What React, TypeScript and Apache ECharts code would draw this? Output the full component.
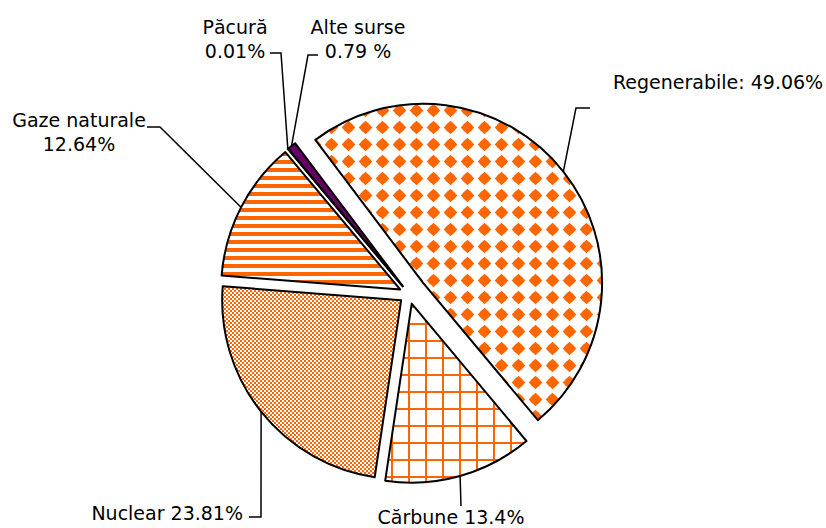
import React, { useEffect, useRef } from 'react';
import * as echarts from 'echarts';

// ---- data ----
const categories = ['Regenerabile', 'Cărbune', 'Nuclear', 'Gaze naturale', 'Păcură', 'Alte surse'];
const shares = [49.06, 13.4, 23.81, 12.64, 0.01, 0.79];
const labelTemplates = ['{b}: {c}%', '{b} {c}%', '{b} {c}%', '{b}\n{c}%', '{b}\n{c}%', '{b}\n{c} %'];

// ---- layout ----
const PIE_CENTER = [409, 294];
const PIE_RADIUS = 179;
const START_ANGLE = 127;
const explode = [18, 10, 10, 10, 10, 10];
const labelAnchors: { x: number; y: number; align: string; bends: number[][] }[] = [
  { x: 613, y: 82, align: 'left', bends: [[576, 108], [590, 108]] },
  { x: 451, y: 517, align: 'center', bends: [[461, 506]] },
  { x: 243, y: 513, align: 'right', bends: [[261, 517], [249, 517]] },
  { x: 79, y: 132, align: 'center', bends: [[160, 127], [147, 127]] },
  { x: 235, y: 39, align: 'center', bends: [[281, 53], [270, 53]] },
  { x: 358, y: 39, align: 'center', bends: [[308, 55], [318, 55]] },
];

const ORANGE = '#FF6600';

function tile(w: number, h: number, draw: (ctx: CanvasRenderingContext2D) => void) {
  const c = document.createElement('canvas');
  c.width = w;
  c.height = h;
  const ctx = c.getContext('2d')!;
  ctx.fillStyle = '#ffffff';
  ctx.fillRect(0, 0, w, h);
  ctx.fillStyle = ORANGE;
  draw(ctx);
  return { image: c.toDataURL(), repeat: 'repeat', imageWidth: w, imageHeight: h } as any;
}

function makePatterns() {
  const regen = tile(17, 17, (ctx) => {
    const cx = 8.5, cy = 8.5;
    ctx.beginPath();
    ctx.moveTo(cx, cy - 6.8);
    ctx.lineTo(cx + 6.8, cy);
    ctx.lineTo(cx, cy + 6.8);
    ctx.lineTo(cx - 6.8, cy);
    ctx.closePath();
    ctx.fill();
    ctx.beginPath();
    ctx.arc(cx, cy, 5.1, 0, Math.PI * 2);
    ctx.fill();
  });
  const grid = tile(17, 17, (ctx) => {
    ctx.fillRect(0, 0, 17, 2);
    ctx.fillRect(0, 0, 2, 17);
  });
  const checker = tile(4, 4, (ctx) => {
    ctx.fillRect(0, 0, 2, 2);
    ctx.fillRect(2, 2, 2, 2);
  });
  const stripes = tile(8, 8, (ctx) => {
    ctx.fillRect(0, 0, 8, 4);
  });
  return [regen, grid, checker, stripes, '#000000', '#660066'];
}

export default function App() {
  const ref = useRef<HTMLDivElement>(null);
  useEffect(() => {
    if (!ref.current) return;
    const chart = echarts.init(ref.current, undefined, { renderer: 'svg' });
    const fills = makePatterns();
    const total = shares.reduce((s, v) => s + v, 0);

    const layout = (params: any) => {
      const a = labelAnchors[params.dataIndex];
      const start = params.labelLinePoints ? params.labelLinePoints[0] : a.bends[0];
      return {
        x: a.x,
        y: a.y,
        align: a.align,
        verticalAlign: 'middle',
        labelLinePoints: [start, ...a.bends],
      };
    };

    let cum = 0;
    const series = categories.map((_, k) => {
      const mid = ((START_ANGLE - ((cum + shares[k] / 2) / total) * 360) * Math.PI) / 180;
      cum += shares[k];
      const cx = PIE_CENTER[0] + Math.cos(mid) * explode[k];
      const cy = PIE_CENTER[1] - Math.sin(mid) * explode[k];
      return {
        type: 'pie',
        center: [cx, cy],
        radius: PIE_RADIUS,
        startAngle: START_ANGLE,
        clockwise: true,
        avoidLabelOverlap: false,
        silent: true,
        label: {
          position: 'outside',
          fontFamily: 'DejaVu Sans',
          fontSize: 19,
          lineHeight: 24,
          color: '#000',
        },
        labelLine: { lineStyle: { color: '#000', width: 1.5 } },
        labelLayout: layout,
        emphasis: { disabled: true },
        data: categories.map((name, i) => {
          const show = i === k;
          return {
            name,
            value: shares[i],
            itemStyle: show
              ? { color: fills[i], borderColor: '#000', borderWidth: 2 }
              : { color: 'rgba(0,0,0,0)', borderWidth: 0 },
            label: { show, formatter: labelTemplates[i] },
            labelLine: { show },
          };
        }),
      };
    });

    chart.setOption({
      animation: false,
      backgroundColor: '#ffffff',
      series,
    } as any);
    return () => chart.dispose();
  }, []);
  return (
    <div
      ref={ref}
      style={{ position: 'fixed', left: 0, top: 0, width: 826, height: 528, background: '#fff' }}
    />
  );
}
